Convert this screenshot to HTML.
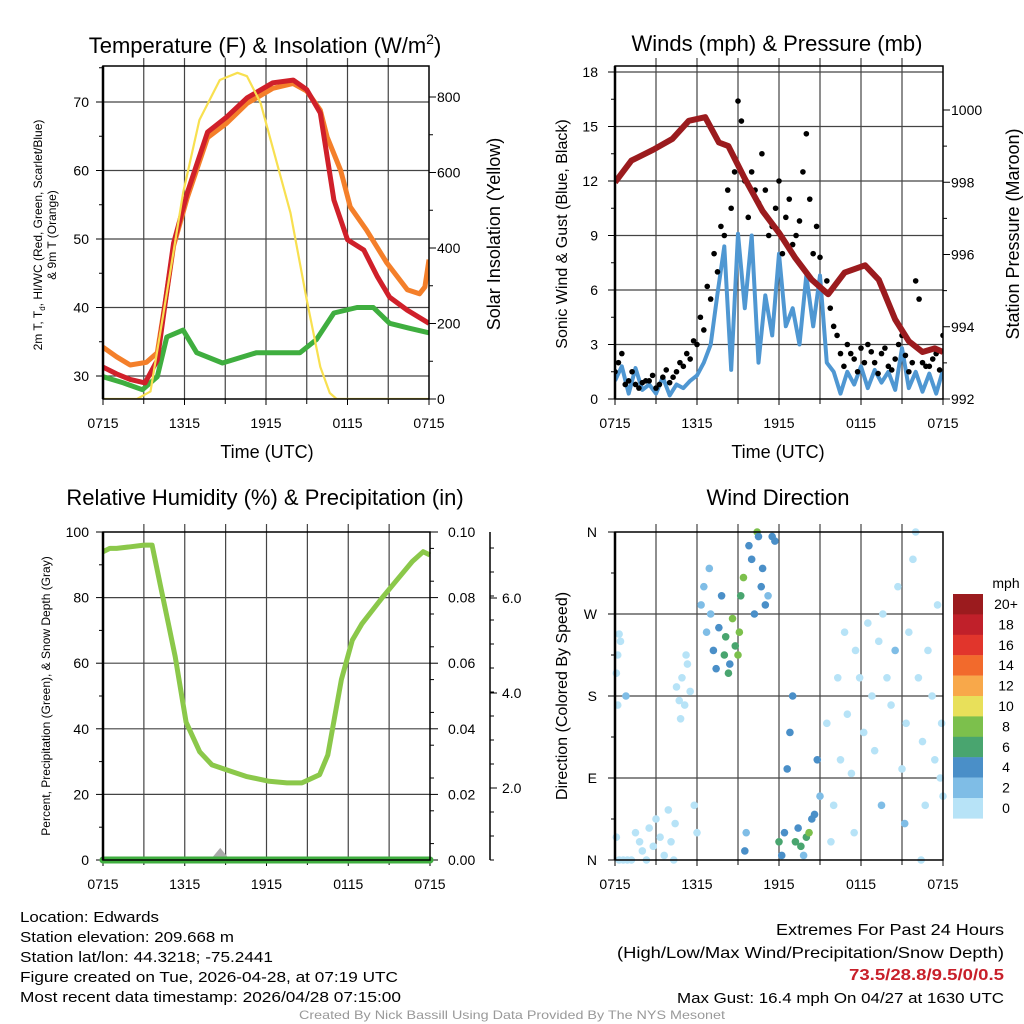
<!DOCTYPE html>
<html><head><meta charset="utf-8"><style>
html,body{margin:0;padding:0;background:#fff}
svg{display:block;font-family:"Liberation Sans",sans-serif}
</style></head><body>
<svg id="s" xmlns="http://www.w3.org/2000/svg" width="1024" height="1024" viewBox="0 0 1024 1024"></svg>
<script>
// ---------- DATA ----------
const xTickLabels=["0715","1315","1915","0115","0715"];
// Temperature panel (hours since 0715)
const tHours=[0,1,2,3.1,4,4.6,5.2,6.2,7.7,9.1,10.6,12.5,14,15,16,17,18,19.2,20.2,21.1,22.4,24];
const tempRed=[31.3,30.3,29.5,29,32.3,41,49.4,56.7,65.6,67.8,70.6,72.8,73.2,71.8,68.4,55.7,49.9,48.4,44.5,41.5,39.6,37.7];
const t9Hours=[0,1,2,3.2,4,4.6,5.2,6.2,7.7,9.1,10.6,12.5,14,15,16,16.5,17.5,18.2,19.4,20.9,22.4,23.3,23.7,24];
const temp9m=[34.2,32.8,31.6,32,33.4,41,49,56,64.8,66.9,69.8,72,72.7,71.6,68.8,64.9,60,54.7,51.3,46.5,42.6,42,43,47];
const tdHours=[0,1.5,2.9,4,4.7,5.9,6.9,8.8,11.3,14.5,15.7,17,18.7,19.9,21.1,22.5,24];
const dewGreen=[29.9,29,28,29.9,35.7,36.7,33.4,31.9,33.4,33.4,35.3,39.2,40,40,37.7,37,36.3];
const solHours=[0,2.5,3.5,4.7,5.9,7.1,8.6,9.9,10.6,11.6,13,13.8,15,16,16.7,17.2,24];
const solar=[0,0,20,281,546,739,845,864,855,784,599,493,262,85,16,0,0];
// Winds panel (half-hourly from 0715)
const wind=[1.0,1.8,0.3,1.7,0.5,0.8,0.3,1.2,0.2,0.8,0.6,1.0,1.3,2.0,3.0,5.8,8.4,1.6,9.1,5.0,9.0,2.0,5.7,3.5,8.0,4.0,5.0,3.0,6.8,4.0,6.8,2.0,1.5,0.3,1.5,0.8,1.8,0.6,1.6,0.9,1.5,0.5,2.8,0.6,1.5,0.4,1.4,0.3,1.6];
const gust=[1.5,2.5,1.0,0.8,0.9,1.0,0.6,1.2,0.9,1.5,1.8,2.2,3.0,3.8,5.5,7.0,9.0,10.5,16.4,12.0,12.5,10.8,11.5,9.5,12.0,10.0,8.5,9.8,14.6,8.0,7.8,6.5,4.0,2.5,3.0,2.2,2.8,3.0,2.0,2.5,1.8,2.2,3.5,1.5,6.5,2.0,1.8,2.5,3.5];
const gust2=[2.0,0.8,1.5,0.6,1.0,1.3,0.8,1.6,1.2,2.0,2.5,3.2,4.5,6.2,8.0,9.5,11.5,12.5,15.3,10.0,11.5,13.5,9.0,10.5,8.0,11.0,9.0,12.5,11.0,9.5,6.0,5.0,3.5,1.8,2.5,1.5,2.0,2.6,1.4,2.8,1.6,3.0,2.4,2.0,5.5,1.8,2.2,1.6];
const pHours=[0,1.2,2.8,4.2,5.4,6.6,7.6,8.3,9.5,10.8,12,13.2,14.4,15.6,16.8,18.3,19.3,20.5,21.5,22.5,23.4,24];
const pressure=[998,998.6,998.9,999.2,999.7,999.8,999.1,999.0,998.1,997.2,996.6,995.9,995.3,994.9,995.5,995.7,995.3,994.2,993.6,993.3,993.4,993.3];
// RH panel
const rhHours=[0,0.5,1,2,3,3.6,4.2,4.8,5.3,6.1,7.1,8,9.4,10.5,12.2,13.5,14.6,15.9,16.5,17.5,18.3,19,20.5,21.5,22.7,23.5,24];
const rh=[94,95,95,95.5,96,96,84,72,62,42,33,29,27,25.5,24,23.5,23.5,26,32,55,67,72,80,85,91,94,93];
const snowHours=[0,8.2,8.6,9,24];
const snow=[0,0,0.002,0,0];
// Wind direction [hour, degrees, mph]
const dirPts=[[0.1,205,1],[0.2,225,1],[0.3,248,1],[0.1,25,1],[0.3,0,1],[0.6,0,1],[0.9,0,1],[0.4,240,1],[0.2,170,1],[0.8,180,3],
[1.2,0,1],[1.5,30,1],[1.8,20,1],[2.0,10,1],[2.3,0,1],[2.5,35,1],[2.8,15,1],[3.0,45,1],[3.3,25,1],[3.6,5,1],[3.9,55,1],[4.1,20,1],[4.3,0,1],[4.4,40,1],
[4.5,190,1],[4.7,175,1],[4.9,200,1],[5.1,170,1],[5.3,215,1],[5.5,185,1],[5.2,225,1],[4.8,155,1],[5.8,60,1],[6.0,30,1],
[6.3,280,2],[6.5,300,2],[6.7,250,3],[6.9,320,2],[7.0,270,2],[7.2,230,5],[7.4,210,5],[7.6,255,4],[7.8,290,5],[8.0,225,7],[8.1,245,6],[8.3,205,7],[8.4,215,4],[8.6,265,8],
[8.8,235,6],[9.0,225,8],[9.1,250,9],[9.2,290,6],[9.4,310,9],[9.5,10,5],[9.6,30,3],[9.8,345,5],[10.0,330,4],[10.2,270,5],[10.4,360,9],[10.5,355,5],[10.7,300,4],[10.8,320,5],[11.0,280,4],[11.2,290,3],
[11.5,355,4],[11.7,350,5],[12.0,20,6],[12.2,5,4],[12.4,30,5],[12.6,100,4],[12.8,140,5],[13.0,180,4],[13.2,20,7],[13.4,35,5],[13.6,15,7],[13.8,5,3],[14.0,25,6],[14.2,30,8],[14.4,45,4],[14.6,50,5],[14.8,110,5],[15.0,70,3],
[15.5,150,1],[15.8,20,1],[16.0,60,1],[16.3,200,1],[16.5,110,1],[16.8,250,1],[17.0,160,1],[17.3,95,1],[17.6,230,1],[17.9,200,1],[18.2,140,1],[18.5,260,1],[18.8,180,1],[19.0,120,1],[19.3,240,1],[19.6,270,1],[19.9,200,1],[20.2,170,1],[20.5,230,3],[20.7,300,1],[21.0,100,1],[21.3,150,1],[21.5,250,1],[21.8,330,1],[22.0,360,1],[22.2,200,1],[22.5,130,1],[22.7,60,1],[22.9,230,1],[23.2,180,1],[23.4,110,1],[23.6,280,1],[23.8,90,1],[24.0,70,1],[23.9,150,1],[21.2,40,3],[19.5,60,3],[22.4,0,1],[17.5,30,1]];
const cbLabels=["20+","18","16","14","12","10","8","6","4","2","0"];
const cbColors=["#9b1b1e","#c0202a","#e1352c","#f26a2c","#f8a84a","#e8e05a","#7cc04c","#49a56f","#4a8fc8","#7fbde6","#b7e3f7"];

// ---------- HELPERS ----------
const S=document.getElementById('s');const NS='http://www.w3.org/2000/svg';
function mk(tag,at,parent){const e=document.createElementNS(NS,tag);for(const k in at)e.setAttribute(k,at[k]);(parent||S).appendChild(e);return e;}
function txt(x,y,s,size,anchor,extra){const e=mk('text',Object.assign({x:x,y:y,'font-size':size,'text-anchor':anchor||'middle',fill:'#000'},extra||{}));e.textContent=s;return e;}
function lin(d0,d1,r0,r1){return v=>r0+(v-d0)/(d1-d0)*(r1-r0);}
function pathFrom(xs,ys,fx,fy){return xs.map((h,i)=>(i?'L':'M')+fx(h).toFixed(1)+' '+fy(ys[i]).toFixed(1)).join(' ');}
function line(x1,y1,x2,y2,c,w){return mk('line',{x1:x1,y1:y1,x2:x2,y2:y2,stroke:c||'#000','stroke-width':w||1});}

function frameX(x0,x1,y0,y1,fx,name){
  for(let h=3;h<24;h+=3){const g=line(fx(h),y0-8,fx(h),y1,'#444',1.2);}
  xTickLabels.forEach((l,i)=>{const x=fx(i*6);line(x,y1,x,y1+6,'#000',1);const t=txt(x,y1+29,l,14);});
  for(let h=3;h<24;h+=6)line(fx(h),y1,fx(h),y1+5,'#000',1);
}
function box(x0,x1,y0,y1,name){const r=mk('rect',{x:x0,y:y0,width:x1-x0,height:y1-y0,fill:'none',stroke:'#000','stroke-width':1.5});line(x0,y0,x0,y1,'#000',2.5);}

// ---------- PANEL 1 ----------
(function(){
 const x0=103,x1=429,y0=66,y1=399;
 const fx=lin(0,24,x0,x1), fy=lin(30,70,376,102), fs=lin(0,800,399,97);
 const T=txt(265,53,'Temperature (F) & Insolation (W/m',22);
 const sup=mk('tspan',{dy:-9,'font-size':14},T);sup.textContent='2';const cl=mk('tspan',{dy:9},T);cl.textContent=')';
 frameX(x0,x1,y0,y1,fx,'temp');
 for(let v=30;v<=70;v+=10){line(x0,fy(v),x1,fy(v),'#444',1.2);line(x0-7,fy(v),x0,fy(v));const t=txt(x0-14,fy(v)+5,String(v),14,'end');}
 for(let v=35;v<=75;v+=10)line(x0-4,fy(v),x0,fy(v));
 for(let v=0;v<=800;v+=200){line(x1,fs(v),x1+7,fs(v));const t=txt(x1+8,fs(v)+5,String(v),14,'start');}
 for(let v=100;v<=800;v+=200)line(x1,fs(v),x1+4,fs(v));
 const clip=mk('clipPath',{id:'c1'});mk('rect',{x:x0,y:y0,width:x1-x0,height:y1-y0},clip);
 const g=mk('g',{'clip-path':'url(#c1)'});
 let p=mk('path',{d:pathFrom(tdHours,dewGreen,fx,fy),fill:'none',stroke:'#3fae3f','stroke-width':5,'stroke-linejoin':'round'},g);
 p=mk('path',{d:pathFrom(t9Hours,temp9m,fx,fy),fill:'none',stroke:'#f47f2a','stroke-width':5,'stroke-linejoin':'round'},g);
 p=mk('path',{d:pathFrom(tHours,tempRed,fx,fy),fill:'none',stroke:'#d0202a','stroke-width':5,'stroke-linejoin':'round'},g);
 p=mk('path',{d:pathFrom(solHours,solar,fx,fs),fill:'none',stroke:'#f8e050','stroke-width':2.2,'stroke-linejoin':'round'},g);
 box(x0,x1,y0,y1,'temp');
 let t=txt(267,458,'Time (UTC)',18);
 t=mk('text',{transform:'translate(42,235) rotate(-90)','font-size':12,'text-anchor':'middle'});t.innerHTML='2m T, T<tspan font-size="8" dy="3">d</tspan><tspan dy="-3">, HI/WC (Red, Green, Scarlet/Blue)</tspan>';
 t=mk('text',{transform:'translate(56,235) rotate(-90)','font-size':12,'text-anchor':'middle'});t.textContent='& 9m T (Orange)';
 t=mk('text',{transform:'translate(500,234) rotate(-90)','font-size':18,'text-anchor':'middle'});t.textContent='Solar Insolation (Yellow)';
})();

// ---------- PANEL 2 ----------
(function(){
 const x0=615,x1=943,y0=66,y1=399;
 const fx=lin(0,24,x0,x1), fy=lin(0,18,399,72), fp=lin(992,1000,399,110);
 let T=txt(777,51,'Winds (mph) & Pressure (mb)',22);
 frameX(x0,x1,y0,y1,fx,'winds');
 for(let v=0;v<=18;v+=3){if(v>0)line(x0,fy(v),x1,fy(v),'#444',1.2);line(x0-7,fy(v),x0,fy(v));const t=txt(x0-17,fy(v)+5,String(v),14,'end');}
 for(let v=1.5;v<18;v+=3)line(x0-4,fy(v),x0,fy(v));
 for(let v=992;v<=1000;v+=2){line(x1,fp(v),x1+7,fp(v));const t=txt(x1+8,fp(v)+5,String(v),14,'start');}
 for(let v=993;v<=1000;v+=2)line(x1,fp(v),x1+4,fp(v));
 const clip=mk('clipPath',{id:'c2'});mk('rect',{x:x0,y:y0,width:x1-x0,height:y1-y0},clip);
 const g=mk('g',{'clip-path':'url(#c2)'});
 const hh=wind.map((_,i)=>i*0.5);
 let p=mk('path',{d:pathFrom(hh,wind,fx,fy),fill:'none',stroke:'#4f97d2','stroke-width':4,'stroke-linejoin':'round'},g);
 gust.forEach((v,i)=>{const c=mk('circle',{cx:fx(i*0.5),cy:fy(v),r:2.8,fill:'#000'},g);});
 gust2.forEach((v,i)=>{const c=mk('circle',{cx:fx(i*0.5+0.25),cy:fy(v),r:2.8,fill:'#000'},g);});
 p=mk('path',{d:pathFrom(pHours,pressure,fx,fp),fill:'none',stroke:'#9b1b1e','stroke-width':6,'stroke-linejoin':'round'},g);
 box(x0,x1,y0,y1,'winds');
 let t=txt(778,458,'Time (UTC)',18);
 t=mk('text',{transform:'translate(567,234) rotate(-90)','font-size':16,'text-anchor':'middle'});t.textContent='Sonic Wind & Gust (Blue, Black)';
 t=mk('text',{transform:'translate(1019,234) rotate(-90)','font-size':18,'text-anchor':'middle'});t.textContent='Station Pressure (Maroon)';
})();

// ---------- PANEL 3 ----------
(function(){
 const x0=103,x1=430,y0=532,y1=860;
 const fx=lin(0,24,x0,x1), fy=lin(0,100,860,532), fr=lin(0,0.1,860,532);
 let T=txt(265,505,'Relative Humidity (%) & Precipitation (in)',22);
 frameX(x0,x1,y0,y1,fx,'rh');
 for(let v=0;v<=100;v+=20){if(v>0&&v<100)line(x0,fy(v),x1,fy(v),'#444',1.2);line(x0-7,fy(v),x0,fy(v));const t=txt(x0-14,fy(v)+5,String(v),14,'end');}
 for(let v=10;v<100;v+=20)line(x0-4,fy(v),x0,fy(v));
 line(x0,y0,x1+8,y0,'#000',1);
 for(let i=0;i<=5;i++){const v=i*0.02;line(x1,fr(v),x1+8,fr(v));const t=txt(x1+18,fr(v)+5,v.toFixed(2),14,'start');}
 for(let i=1;i<=20;i+=2)line(x1,fr(i*0.005),x1+4,fr(i*0.005));
 const ax=line(490,532,490,860,'#000',1.5);
 [[788,'2.0'],[693,'4.0'],[598,'6.0']].forEach(a=>{line(490,a[0],497,a[0]);const t=txt(502,a[0]+5,a[1],14,'start');});
 for(let y=860;y>540;y-=24)line(490,y,494,y);
 const clip=mk('clipPath',{id:'c3'});mk('rect',{x:x0-10,y:y0,width:x1-x0+20,height:y1-y0+10},clip);
 const g=mk('g',{'clip-path':'url(#c3)'});
 let p=mk('path',{d:pathFrom(rhHours,rh,fx,fy),fill:'none',stroke:'#8bc84a','stroke-width':5,'stroke-linejoin':'round'},g);
 p=mk('path',{d:pathFrom(snowHours,snow,fx,fr),fill:'none',stroke:'#aaa','stroke-width':7,'stroke-linecap':'round'},g);
 p=mk('path',{d:pathFrom([0,24],[0,0],fx,fr),fill:'none',stroke:'#3fae3f','stroke-width':7,'stroke-linecap':'round'},g);
 box(x0,x1,y0,y1,'rh');
 let t=mk('text',{transform:'translate(50,696) rotate(-90)','font-size':12,'text-anchor':'middle'});t.textContent='Percent, Precipitation (Green), & Snow Depth (Gray)';
})();

// ---------- PANEL 4 ----------
(function(){
 const x0=615,x1=943,y0=532,y1=860;
 const fx=lin(0,24,x0,x1), fd=lin(0,360,860,532);
 let T=txt(778,505,'Wind Direction',22);
 frameX(x0,x1,y0,y1,fx,'dir');
 ['N','E','S','W','N'].forEach((l,i)=>{const y=fd(i*90);if(i>0&&i<4)line(x0,y,x1,y,'#444',1.2);line(x0-7,y,x0,y);const t=txt(x0-18,y+5,l,14,'end');});
 for(let v=45;v<360;v+=90)line(x0-4,fd(v),x0,fd(v));
 const g=mk('g',{});
 dirPts.forEach(pt=>{let b=Math.min(10,Math.floor(pt[2]/2));const c=mk('circle',{cx:fx(pt[0]),cy:fd(pt[1]),r:3.8,fill:cbColors[10-b]},g);});
 box(x0,x1,y0,y1,'dir');
 let t=mk('text',{transform:'translate(567,696) rotate(-90)','font-size':16,'text-anchor':'middle'});t.textContent='Direction (Colored By Speed)';
 t=txt(1006,588,'mph',14);
 cbLabels.forEach((l,i)=>{const y=594+i*20.4;const r=mk('rect',{x:953,y:y,width:30,height:20.6,fill:cbColors[i]});const tt=txt(1006,y+15,l,14);});
})();

// ---------- FOOTER ----------
const leftLines=[["Location: Edwards",139],["Station elevation: 209.668 m",214],["Station lat/lon: 44.3218; -75.2441",253],["Figure created on Tue, 2026-04-28, at 07:19 UTC",378],["Most recent data timestamp: 2026/04/28 07:15:00",381]];
leftLines.forEach((l,i)=>{const t=txt(20,922+i*20,l[0],15,'start',{textLength:l[1],lengthAdjust:'spacingAndGlyphs'});});
let t=txt(1004,935,'Extremes For Past 24 Hours',16,'end',{textLength:228,lengthAdjust:'spacingAndGlyphs'});
t=txt(1004,958,'(High/Low/Max Wind/Precipitation/Snow Depth)',16,'end',{textLength:387,lengthAdjust:'spacingAndGlyphs'});
t=txt(1004,980,'73.5/28.8/9.5/0/0.5',16,'end',{fill:'#c8202a','font-weight':'bold',textLength:155,lengthAdjust:'spacingAndGlyphs'});
t=txt(1004,1003,'Max Gust: 16.4 mph On 04/27 at 1630 UTC',15,'end',{textLength:327,lengthAdjust:'spacingAndGlyphs'});
t=txt(512,1019,'Created By Nick Bassill Using Data Provided By The NYS Mesonet',12,'middle',{fill:'#999',textLength:426,lengthAdjust:'spacingAndGlyphs'});
</script>
</body></html>
